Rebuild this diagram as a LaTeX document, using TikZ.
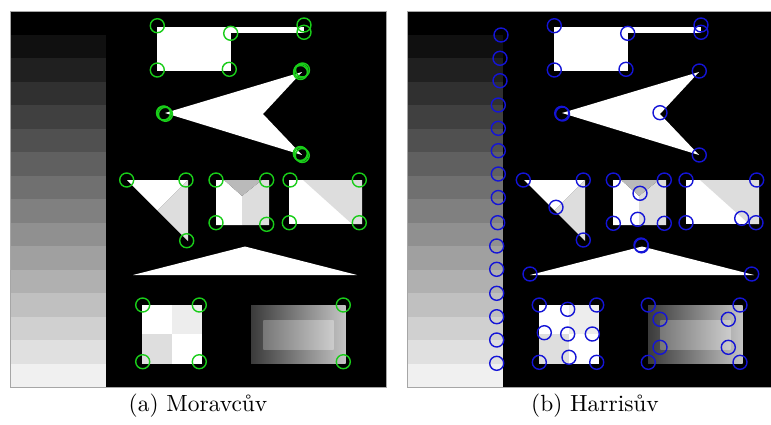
\documentclass[tikz,border=0pt]{standalone}
\usetikzlibrary{shadings}
\definecolor{facegray}{gray}{0.865}
\definecolor{topgray}{gray}{0.73}
\definecolor{checkA}{gray}{0.93}
\definecolor{checkB}{gray}{0.87}
\definecolor{outerL}{gray}{0.23}
\definecolor{outerR}{gray}{0.77}
\definecolor{innerL}{gray}{0.47}
\definecolor{innerR}{gray}{0.80}
\definecolor{ringgreen}{RGB}{25,205,25}
\definecolor{ringblue}{RGB}{20,20,215}
\tikzset{
  greenring/.style={draw=ringgreen, line width=1.4pt},
  bluering/.style={draw=ringblue, line width=1.4pt},
  captiontext/.style={font=\fontsize{10}{12}\selectfont, scale=2.34, anchor=base, inner sep=0pt},
}
% the test image shared by both panels (pixel units, y downwards)
\newcommand\testimage{%
  \fill[black] (10,11) rectangle (386,387);
  % grey staircase on the left
  \foreach \i in {1,...,15}{
    \pgfmathsetmacro\k{100-6.2745*\i}
    \fill[black!\k] (10,{11+23.5*\i}) rectangle (106,{34.5+23.5*\i});
  }
  \draw[gray!70, line width=0.6pt] (10,11) rectangle (386,387);
  % rectangle with a thin bar
  \fill[white] (157,27) rectangle (231,71);
  \fill[white] (231,27) rectangle (304,33);
  % arrowhead
  \fill[white] (165,113) -- (302,72) -- (263,114) -- (302,155) -- cycle;
  % split right triangle
  \fill[white] (127,180) -- (188,180) -- (157.5,210.5) -- cycle;
  \fill[facegray] (188,180) -- (188,241) -- (157.5,210.5) -- cycle;
  % box seen from above
  \fill[white] (216,180) -- (224,180) -- (242,196) -- (242,225) -- (216,225) -- cycle;
  \fill[facegray] (242,196) -- (262,180) -- (269,180) -- (269,225) -- (242,225) -- cycle;
  \fill[topgray] (224,180) -- (262,180) -- (242,196) -- cycle;
  % diagonally split rectangle
  \fill[white] (289,180) rectangle (362,224);
  \fill[facegray] (303,180) -- (362,180) -- (362,224) -- (352,224) -- cycle;
  % flat triangle
  \fill[white] (133,275) -- (245,246.5) -- (357,275) -- cycle;
  % checkerboard
  \fill[white] (142,305) rectangle (201.5,363.5);
  \fill[checkA] (172,305) rectangle (201.5,334.3);
  \fill[checkB] (142,334.3) rectangle (172,363.5);
  % gradient rectangles
  \shade[left color=outerL, right color=outerR] (251,305) rectangle (345.5,363.5);
  \shade[left color=innerL, right color=innerR] (263.3,320) rectangle (333.5,349);
}
\begin{document}
\begin{tikzpicture}[x=1pt, y=-1pt]
\useasboundingbox (0,0) rectangle (771,424);

% (a) Moravec detector
\begin{scope}
  \testimage
  \foreach \p in {(157.3,25.7),(230.7,33.3),(304,25),(304,32.3),
                  (157.3,70),(229.3,69.3),(301,71),(302.5,70),(300.5,72.5),
                  (164.3,113.3),(163.5,113),(165.5,114.3),
                  (301,154.3),(302.3,155.5),(300.3,153.5),
                  (126.7,180),(186,180),(216,180),(266.7,180),(290,180),(359.3,180),
                  (216,222.7),(266.7,224.3),(289.3,222.7),(359.3,222.7),
                  (186.7,240.7),
                  (142.7,305),(199.3,305),(343.3,305),
                  (142.7,361.7),(199.3,361.7),(343.3,361.7)}
    \draw[greenring] \p circle[radius=7];
\end{scope}
\node[captiontext] (capa) at (198,411) {(a) Moravcův};

% (b) Harris detector
\begin{scope}
  \clip (397,0) rectangle (771,424);
  \begin{scope}[xshift=397pt]
    \testimage
  \end{scope}
  \foreach \p in {(501,35),(500,58.3),(500,80.7),(498.3,105),(498.3,128.3),
                  (498.3,150.7),(498.3,174),(498.3,197.5),(497.7,222.7),
                  (496.7,246),(496.7,269.3),(496.7,293.3),(496.7,316.7),
                  (496.7,340),(496.7,363.3),
                  (554.3,25.7),(627.7,33.3),(701,25),(701,32.3),
                  (554.3,70),(626,69.3),(699.3,71),
                  (561.7,113.3),(562.5,114),(660,112.7),(699.3,155),
                  (523.3,180),(583.3,180),(613.3,180),(664.3,180),(686,180),(756.7,180),
                  (640,193.3),(556,207.3),
                  (613.3,223.3),(637.7,219.3),(664.3,223.3),(686,222.7),(741.7,218.3),(756,222.7),
                  (583.3,240),(641,245),(641.5,245.8),
                  (530,274),(751.7,274),
                  (539.3,305),(567.7,309.3),(596.7,305),
                  (544.3,332.7),(567.7,334),(592.3,334),
                  (539.3,362.3),(569,357.3),(596.7,362.3),
                  (648.3,305),(740,305),(660,319.3),(728.3,319.3),
                  (660,347.3),(728.3,347.3),(648.3,362.3),(740,362.3)}
    \draw[bluering] \p circle[radius=7];
\end{scope}
\node[captiontext] (capb) at (595,411) {(b) Harrisův};
\end{tikzpicture}
\end{document}
